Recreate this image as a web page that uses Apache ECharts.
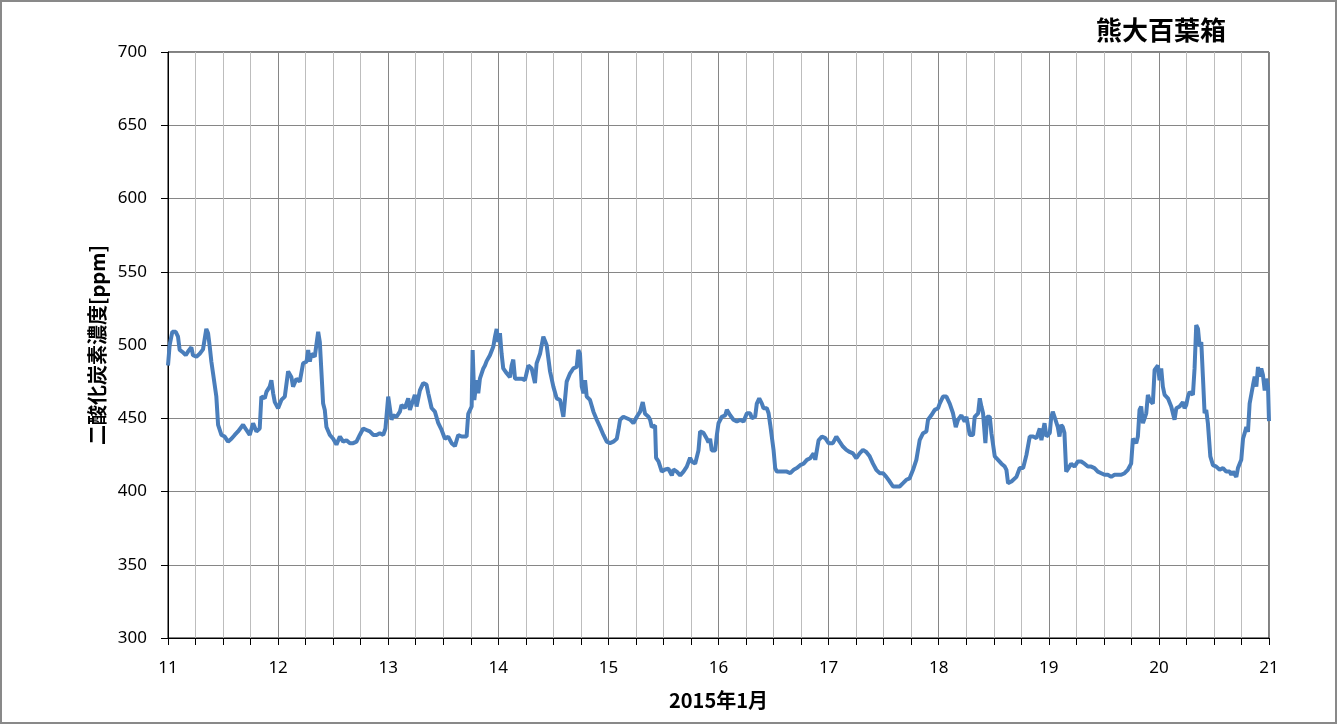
<!DOCTYPE html>
<html>
<head>
<meta charset="utf-8">
<script src="https://cdn.jsdelivr.net/npm/echarts@6/dist/echarts.min.js"></script>
<style>
html,body{margin:0;padding:0;background:#fff;}
#chart{width:1337px;height:724px;}
</style>
</head>
<body>
<div id="chart"></div>
<script>
// Time in days of January 2015
const times = [
11.000,11.015,11.039,11.070,11.091,11.106,11.136,11.161,11.182,11.212,11.227,11.258,11.288,11.318,11.333,11.348,11.364,11.379,11.394,11.409,11.424,11.439,11.455,11.485,11.515,11.545,11.576,11.606,11.636,11.682,11.712,11.742,11.773,11.803,11.833,11.848,11.879,11.894,11.924,11.939,11.955,11.970,
12.000,12.030,12.061,12.091,12.121,12.136,12.167,12.197,12.227,12.258,12.273,12.288,12.303,12.333,12.364,12.379,12.394,12.409,12.424,12.439,12.470,12.500,12.530,12.561,12.591,12.621,12.652,12.682,12.712,12.742,12.773,12.803,12.833,12.864,12.894,12.924,12.955,12.975,
13.000,13.015,13.030,13.045,13.076,13.106,13.121,13.136,13.152,13.182,13.197,13.212,13.242,13.258,13.273,13.288,13.318,13.348,13.364,13.394,13.424,13.455,13.485,13.515,13.545,13.576,13.606,13.636,13.667,13.712,13.727,13.758,13.767,13.782,13.803,13.818,13.833,13.864,13.879,13.894,13.924,13.955,13.970,13.985,
14.000,14.015,14.030,14.045,14.076,14.106,14.121,14.136,14.152,14.182,14.212,14.242,14.273,14.303,14.333,14.348,14.379,14.409,14.439,14.470,14.500,14.530,14.561,14.591,14.621,14.652,14.682,14.712,14.727,14.742,14.758,14.773,14.788,14.803,14.833,14.864,14.894,14.924,14.955,14.985,
15.015,15.045,15.076,15.091,15.106,15.136,15.167,15.197,15.227,15.258,15.288,15.312,15.333,15.364,15.379,15.394,15.424,15.433,15.455,15.485,15.515,15.545,15.576,15.591,15.621,15.652,15.682,15.712,15.742,15.758,15.788,15.818,15.833,15.864,15.894,15.909,15.924,15.939,15.970,15.985,
16.000,16.030,16.061,16.076,16.106,16.136,16.167,16.197,16.227,16.258,16.288,16.303,16.333,16.348,16.370,16.394,16.409,16.439,16.455,16.470,16.500,16.515,16.530,16.561,16.591,16.621,16.652,16.682,16.712,16.742,16.773,16.803,16.833,16.864,16.879,16.894,16.909,16.939,16.970,
17.000,17.039,17.070,17.100,17.130,17.161,17.191,17.221,17.252,17.282,17.312,17.342,17.373,17.403,17.433,17.464,17.494,17.524,17.555,17.585,17.615,17.645,17.676,17.706,17.736,17.767,17.797,17.827,17.858,17.888,17.903,17.933,17.964,17.994,
18.009,18.039,18.070,18.100,18.130,18.155,18.176,18.206,18.236,18.252,18.282,18.312,18.327,18.358,18.373,18.388,18.403,18.424,18.439,18.464,18.479,18.509,18.539,18.570,18.600,18.615,18.630,18.661,18.706,18.736,18.767,18.797,18.827,18.858,18.888,18.918,18.933,18.961,18.979,
19.009,19.021,19.036,19.052,19.082,19.097,19.112,19.127,19.142,19.158,19.188,19.203,19.233,19.264,19.294,19.324,19.355,19.385,19.415,19.445,19.476,19.506,19.536,19.567,19.597,19.627,19.658,19.688,19.718,19.748,19.764,19.794,19.809,19.824,19.839,19.855,19.870,19.885,19.900,19.915,19.930,19.945,19.961,19.976,19.991,
20.006,20.021,20.036,20.052,20.082,20.112,20.142,20.158,20.188,20.218,20.233,20.248,20.264,20.279,20.309,20.324,20.339,20.355,20.370,20.385,20.400,20.415,20.430,20.445,20.467,20.491,20.521,20.552,20.582,20.612,20.642,20.658,20.673,20.703,20.718,20.748,20.764,20.779,20.794,20.809,20.824,20.855,20.870,20.885,20.900,20.915,20.930,20.945,20.961,20.976,20.991,21.000
];
// CO2 concentration [ppm]
const co2 = [
486,500,509,509,505.7,496.6,495,493,495.5,498.4,493,492,494,497,496,511,508,499,488.6,480.7,482,464.8,445.5,438.6,437.5,434,436,438.6,441,445.5,442,438.6,446.6,441,443,464.8,463.6,468,471.6,476,467,461,
456.8,462.5,464.8,482,478,471.6,477,475,487.5,488.6,496.6,488.6,494,492,509,502,503,460,455.7,444,438.6,436,432,437.5,434,435,433,433,434,438.6,443,442,441,438.6,438.6,439.8,438.6,443,
464.8,466,449,452,451,454.5,459,460,457,463.6,455.7,454.5,466,458,457,469,474,473,467,457,454.5,446.6,442,436,437.5,433,431,438.6,437.5,437.5,453,458,496.6,462.5,476,467,477,484,486,489,493,499,505.7,511,
502,508,494,484,480.7,478,486,490,477,477,477,476,486,484,474,487.5,494,505.7,500,482,471.6,463.6,462.5,451,475,480.7,484,485,496.6,494,471.6,467,476,464.8,462.5,454.5,449,444,438.6,434,
433,434,436,442,449,451,450,449,446.6,451,454.5,461,453,451,449,444,445,423,420.5,413.6,415,415.5,411,415,413.6,411,413.6,417,423,420.5,419,428,441,440,436,433.5,436,428,428,438.6,
446.6,451,452,455.7,452,449,447.7,449,447.7,453.4,453.4,450,451,460,463.6,460,456.8,456.8,453.4,445.5,428.4,416,413.6,413.6,413.6,413.6,412.5,414.8,416,418,419,421.6,422.7,426,421.6,428.4,435,437.5,436.4,
433,433,437.5,434,430.7,428.4,427,426,422.7,426,428.4,427,424,419,414.8,412.5,412.5,410,406.8,403.4,403.4,403.4,405.7,408,409,414.8,421.6,435,439.8,441,449,452,455.7,456.8,
460,464.8,464.8,460,453.4,444,449,452,447.7,451,438.6,438.6,451,453.4,463.6,458,453.4,433,451,451,439.8,424,421.6,419,417,414.8,405.7,406.8,410,416,416,425,437.5,437.5,436.4,443,435,446.6,437.5,
440,450,454.5,451,444,437.5,445.5,444,440,413.6,417,419,417,420.5,420.5,419,417,417,416,413.6,412.5,411.4,411.4,410,411.4,411.4,411.4,412.5,414.8,419,436,433,437.5,455.7,458,446.6,446.6,453.4,466,462.5,461.4,460,483,484,486,
476,484,471.6,466,463.6,458,449,456.8,458,461,456.8,459,464.8,468,466,484,513.6,511,499,502,478,453.4,455.7,446.6,424,418,417,414.8,416,413.6,413.6,411.4,413.6,410,416,421.6,436,439.8,444,440.7,460,472.7,478.4,471.6,485,478.4,484,479.5,469,477,471.6,448
];
const xTicks = [11,12,13,14,15,16,17,18,19,20,21];
const yTicks = [300,350,400,450,500,550,600,650,700];
const titleText = '熊大百葉箱';
const yName = '二酸化炭素濃度[ppm]';
const xName = '2015年1月';

const seriesData = times.map((t, i) => [t, co2[i]]);
const chart = echarts.init(document.getElementById('chart'), null, {renderer: 'canvas'});
const labelFont = {fontFamily: '"Noto Sans", sans-serif', fontSize: 17, color: '#000'};
const nameFont = {fontFamily: '"Noto Sans CJK JP", sans-serif', fontSize: 20, fontWeight: 'bold', color: '#000'};
chart.setOption({
  animation: false,
  backgroundColor: '#fff',
  graphic: [
    {type: 'rect', shape: {x: 1, y: 1, width: 1335, height: 722}, style: {fill: 'none', stroke: '#898989', lineWidth: 2}, z: 100},
    {type: 'text', left: 1096, top: 17, style: {text: titleText, font: 'bold 26px "Noto Sans CJK JP"', fill: '#000'}}
  ],
  grid: {left: 168, right: 68, top: 52, bottom: 86, show: true, borderColor: '#000', borderWidth: 1, backgroundColor: 'transparent'},
  xAxis: {
    type: 'value', min: xTicks[0], max: xTicks[xTicks.length - 1], interval: 1,
    name: xName, nameLocation: 'middle', nameGap: 52, nameTextStyle: nameFont,
    axisLine: {show: true, lineStyle: {color: '#000', width: 1}},
    axisTick: {show: true, inside: false, length: 7, lineStyle: {color: '#000'}},
    minorTick: {show: true, splitNumber: 4, length: 7, lineStyle: {color: '#000'}},
    axisLabel: Object.assign({margin: 22}, labelFont),
    splitLine: {show: true, lineStyle: {color: '#868686', width: 1}},
    minorSplitLine: {show: true, lineStyle: {color: '#bdbdbd', width: 1}}
  },
  yAxis: {
    type: 'value', min: yTicks[0], max: yTicks[yTicks.length - 1], interval: 50,
    name: yName, nameLocation: 'middle', nameGap: 61, nameTextStyle: nameFont,
    axisLine: {show: true, lineStyle: {color: '#000', width: 1}},
    axisTick: {show: true, inside: false, length: 7, lineStyle: {color: '#000'}},
    axisLabel: Object.assign({margin: 21}, labelFont),
    splitLine: {show: true, lineStyle: {color: '#868686', width: 1}}
  },
  series: [{
    type: 'line', data: seriesData, showSymbol: false, symbol: 'none',
    lineStyle: {color: '#4a7ebb', width: 4}, clip: true
  }]
});
</script>
</body>
</html>
